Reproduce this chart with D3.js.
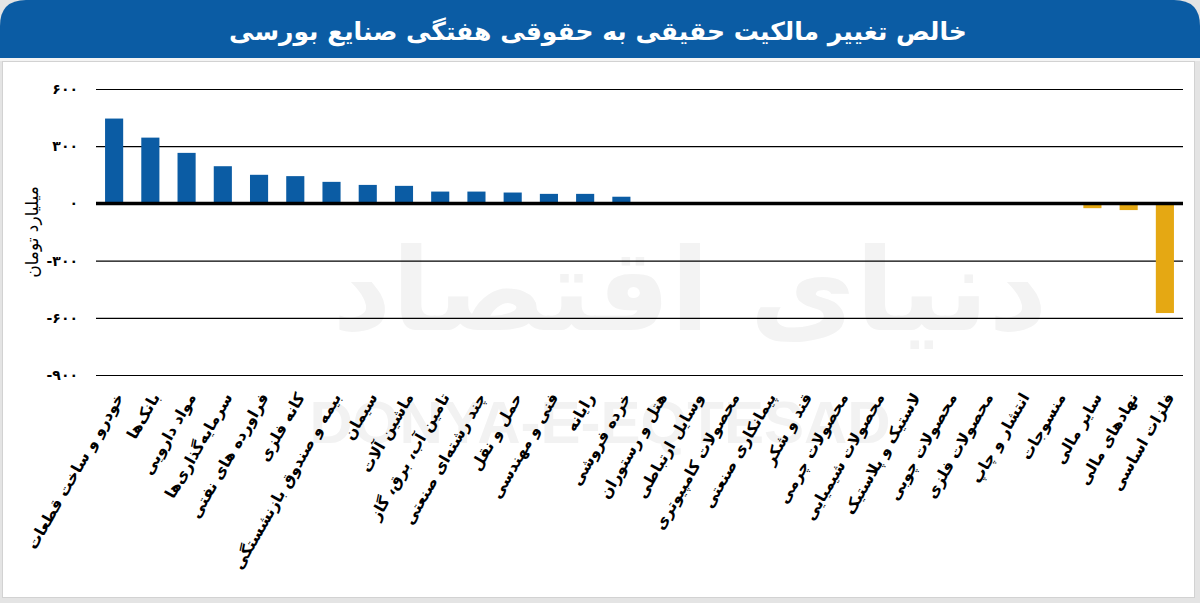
<!DOCTYPE html>
<html>
<head>
<meta charset="utf-8">
<script src="https://cdn.jsdelivr.net/npm/d3@7"></script>
<style>
  html, body { margin: 0; padding: 0; background: #ffffff; }
  svg { display: block; }
</style>
</head>
<body>
<script>
const title = "خالص تغییر مالکیت حقیقی به حقوقی هفتگی صنایع بورسی";
const yAxisTitle = "میلیارد تومان";
const categories = [
  "خودرو و ساخت قطعات", "بانک‌ها", "مواد دارویی", "سرمایه‌گذاری‌ها", "فراورده های نفتی",
  "کانه فلزی", "بیمه و صندوق بازنشستگی", "سیمان", "ماشین آلات", "تامین آب، برق، گاز",
  "چند رشته‌ای صنعتی", "حمل و نقل", "فنی و مهندسی", "رایانه", "خرده فروشی",
  "هتل و رستوران", "وسایل ارتباطی", "محصولات کامپیوتری", "پیمانکاری صنعتی", "قند و شکر",
  "محصولات چرمی", "محصولات شیمیایی", "لاستیک و پلاستیک", "محصولات چوبی", "محصولات فلزی",
  "انتشار و چاپ", "منسوجات", "سایر مالی", "نهادهای مالی", "فلزات اساسی"
];
const values = [
  445, 345, 265, 195, 150,
  143, 113, 97, 92, 62,
  62, 57, 50, 50, 35,
  0, 0, 0, 0, 0,
  0, 0, 0, 0, 0,
  0, 0, -25, -35, -575
];
const tickValues = [600, 300, 0, -300, -600, -900];

const W = 1200, H = 603;
const svg = d3.select("body").append("svg").attr("width", W).attr("height", H);

// background & frame
svg.append("rect").attr("x", 0).attr("y", 0).attr("width", W).attr("height", H).attr("fill", "#e4e4e4");
svg.append("rect").attr("x", 2.5).attr("y", 61.5).attr("width", 1192).attr("height", 536)
  .attr("fill", "#ffffff").attr("stroke", "#d2d2d2").attr("stroke-width", 1);
svg.append("rect").attr("x", 0).attr("y", 58).attr("width", W).attr("height", 3).attr("fill", "#f4f4f4");

// header
const r = 26, hh = 58;
svg.append("path")
  .attr("d", `M0,${hh} L0,${r} Q0,0 ${r},0 L${W - r},0 Q${W},0 ${W},${r} L${W},${hh} Z`)
  .attr("fill", "#0b5ca4");
svg.append("text")
  .attr("x", 598).attr("y", 40)
  .attr("text-anchor", "middle")
  .attr("font-family", "DejaVu Sans")
  .attr("font-weight", "bold")
  .attr("font-size", 25)
  .attr("fill", "#ffffff")
  .text(title);

// watermark
svg.append("text")
  .attr("x", 690).attr("y", 330)
  .attr("text-anchor", "middle")
  .attr("font-family", "DejaVu Sans")
  .attr("font-weight", "bold")
  .attr("font-size", 115)
  .attr("fill", "#f3f3f3")
  .text("دنیای اقتصاد");
svg.append("text")
  .attr("x", 600).attr("y", 443)
  .attr("text-anchor", "middle")
  .attr("font-family", "Liberation Sans")
  .attr("font-weight", "bold")
  .attr("font-size", 60)
  .attr("fill", "#f2f2f2")
  .text("DONYA-E-EQTESAD");

// scales
const x = d3.scaleBand().domain(categories).range([96, 1183]).paddingInner(0.5).paddingOuter(0.25);
const y = d3.scaleLinear().domain([-900, 600]).range([375, 89]);

const toFa = s => String(s).replace(/[0-9]/g, d => "۰۱۲۳۴۵۶۷۸۹"[+d]);

// gridlines
svg.append("g").selectAll("line").data(tickValues.filter(t => t !== 0)).join("line")
  .attr("x1", 96).attr("x2", 1183)
  .attr("y1", d => y(d) + 0.5).attr("y2", d => y(d) + 0.5)
  .attr("stroke", "#000").attr("stroke-width", 1.2);

// y tick labels
svg.append("g").selectAll("text").data(tickValues).join("text")
  .attr("x", 78).attr("y", d => y(d) + 5)
  .attr("text-anchor", "end")
  .attr("font-family", "DejaVu Sans")
  .attr("font-weight", "bold")
  .attr("font-size", 14)
  .attr("fill", "#000")
  .text(d => toFa(d));

// y axis title
svg.append("text")
  .attr("transform", `translate(38,${y(-150)}) rotate(-90)`)
  .attr("text-anchor", "middle")
  .attr("font-family", "DejaVu Sans")
  .attr("font-size", 17)
  .attr("fill", "#000")
  .text(yAxisTitle);

// bars
svg.append("g").selectAll("rect").data(values).join("rect")
  .attr("x", (d, i) => x(categories[i]))
  .attr("width", x.bandwidth())
  .attr("y", d => y(Math.max(0, d)))
  .attr("height", d => Math.abs(y(d) - y(0)))
  .attr("fill", d => d >= 0 ? "#0b5ca4" : "#e5a813");

// zero line
svg.append("line")
  .attr("x1", 96).attr("x2", 1183)
  .attr("y1", y(0)).attr("y2", y(0))
  .attr("stroke", "#000").attr("stroke-width", 3.5);

// category labels
svg.append("g").selectAll("text").data(categories).join("text")
  .attr("transform", d => `translate(${x(d) + x.bandwidth() / 2 + 10},${397}) rotate(-60)`)
  .attr("text-anchor", "end")
  .attr("font-family", "DejaVu Sans")
  .attr("font-weight", "bold")
  .attr("font-size", 15.5)
  .attr("fill", "#000")
  .text(d => d);
</script>
</body>
</html>
